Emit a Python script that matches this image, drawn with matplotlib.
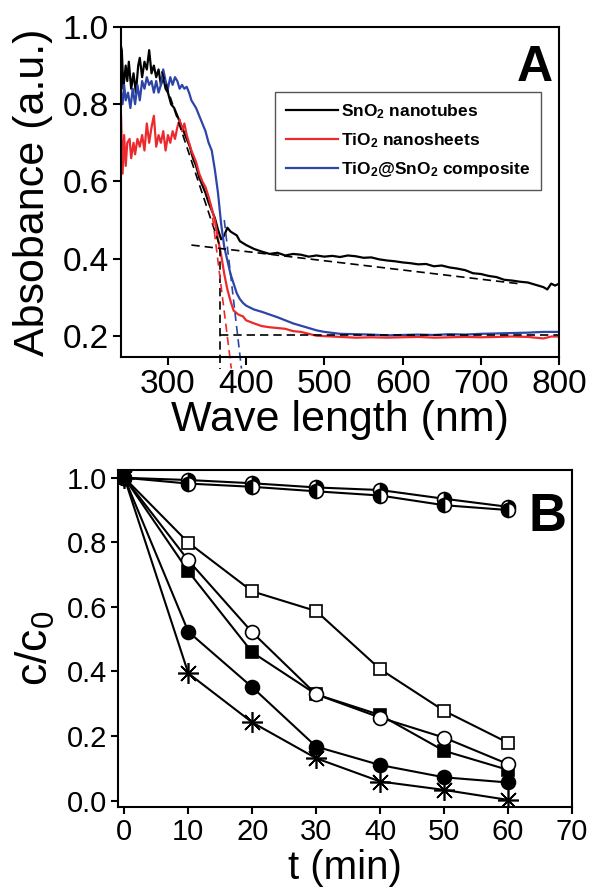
import matplotlib

matplotlib.use("Agg")
import matplotlib.pyplot as plt

plt.rcParams["font.family"] = ["Liberation Sans", "DejaVu Sans"]
plt.rcParams["mathtext.fontset"] = "custom"
plt.rcParams["mathtext.rm"] = "Liberation Sans"
plt.rcParams["mathtext.bf"] = "Liberation Sans:bold"
plt.rcParams["mathtext.default"] = "regular"

# ---- panel A: UV-vis absorbance spectra ----
wl_sno2 = [240, 241, 243, 246, 248, 250, 253, 256, 259, 262, 264, 267, 270, 273, 276, 279,
           282, 285, 288, 291, 294, 297, 300, 304, 308, 312, 316, 320, 324, 328, 332, 336,
           340, 344, 348, 352, 356, 360, 364, 368, 372, 376, 380, 384, 388, 392, 396, 400,
           410, 420, 430, 440, 450, 460, 470, 480, 490, 500, 510, 520, 530, 540, 550, 560,
           570, 580, 590, 600, 610, 620, 630, 640, 650, 660, 670, 680, 690, 700, 710, 720,
           730, 740, 750, 760, 770, 780, 785, 790, 795, 800]
abs_sno2 = [0.95, 0.94, 0.84, 0.90, 0.86, 0.91, 0.84, 0.88, 0.83, 0.90, 0.92, 0.87, 0.91, 0.89,
            0.94, 0.88, 0.90, 0.87, 0.89, 0.85, 0.87, 0.84, 0.83, 0.80, 0.79, 0.77, 0.75, 0.73,
            0.71, 0.69, 0.66, 0.64, 0.61, 0.59, 0.57, 0.545, 0.525, 0.505, 0.475, 0.45, 0.46,
            0.48, 0.47, 0.465, 0.46, 0.445, 0.44, 0.435, 0.425, 0.418, 0.412, 0.415, 0.408,
            0.412, 0.41, 0.405, 0.408, 0.405, 0.407, 0.404, 0.408, 0.406, 0.402, 0.403, 0.398,
            0.395, 0.393, 0.39, 0.388, 0.385, 0.386, 0.38, 0.382, 0.377, 0.374, 0.37, 0.362,
            0.36, 0.355, 0.352, 0.345, 0.343, 0.34, 0.338, 0.332, 0.326, 0.32, 0.335, 0.33, 0.335]

wl_tio2 = [240, 242, 244, 246, 248, 251, 253, 256, 258, 261, 264, 267, 270, 273, 276, 279,
           282, 285, 288, 291, 294, 297, 300, 303, 306, 309, 312, 315, 318, 321, 324, 327,
           330, 333, 336, 340, 344, 348, 352, 356, 360, 364, 368, 372, 376, 380, 384, 390,
           396, 400, 410, 420, 430, 440, 450, 460, 470, 480, 490, 500, 520, 540, 560, 580,
           600, 620, 640, 660, 680, 700, 720, 740, 760, 780, 790, 800]
abs_tio2 = [0.77, 0.62, 0.72, 0.64, 0.70, 0.71, 0.66, 0.70, 0.67, 0.71, 0.69, 0.72, 0.68, 0.75,
            0.70, 0.74, 0.77, 0.69, 0.72, 0.70, 0.73, 0.68, 0.72, 0.70, 0.73, 0.71, 0.74, 0.76,
            0.73, 0.75, 0.72, 0.70, 0.68, 0.665, 0.65, 0.62, 0.60, 0.585, 0.56, 0.53, 0.50,
            0.45, 0.41, 0.36, 0.32, 0.29, 0.265, 0.255, 0.25, 0.24, 0.232, 0.225, 0.222, 0.22,
            0.218, 0.212, 0.21, 0.205, 0.20, 0.199, 0.197, 0.195, 0.196, 0.195, 0.196, 0.197,
            0.195, 0.196, 0.197, 0.196, 0.197, 0.198, 0.197, 0.193, 0.198, 0.198]

wl_comp = [240, 242, 244, 246, 249, 252, 255, 258, 261, 264, 267, 270, 273, 276, 279, 282,
           285, 288, 291, 294, 297, 300, 303, 306, 309, 312, 315, 318, 321, 324, 327, 330,
           333, 336, 340, 344, 348, 352, 356, 360, 364, 368, 372, 376, 380, 384, 388, 392,
           396, 400, 410, 420, 430, 440, 450, 460, 470, 480, 490, 500, 520, 540, 560, 580,
           600, 620, 640, 660, 680, 700, 720, 740, 760, 780, 800]
abs_comp = [0.83, 0.80, 0.85, 0.81, 0.83, 0.79, 0.84, 0.80, 0.85, 0.81, 0.86, 0.84, 0.87, 0.85,
            0.86, 0.83, 0.86, 0.83, 0.85, 0.89, 0.86, 0.84, 0.87, 0.85, 0.87, 0.86, 0.84, 0.85,
            0.84, 0.845, 0.83, 0.81, 0.80, 0.79, 0.77, 0.75, 0.73, 0.70, 0.68, 0.63, 0.57,
            0.49, 0.43, 0.395, 0.36, 0.335, 0.31, 0.295, 0.285, 0.278, 0.268, 0.262, 0.255,
            0.248, 0.24, 0.232, 0.226, 0.22, 0.214, 0.21, 0.205, 0.204, 0.203, 0.201, 0.202,
            0.203, 0.202, 0.204, 0.203, 0.205, 0.206, 0.207, 0.208, 0.21, 0.21]

# band-edge construction lines (endpoints)
sno2_tangent = ([292, 367], [0.885, 0.428])
sno2_drop = ([367, 367], [0.428, 0.115])
sno2_base = ([330, 748], [0.435, 0.335])
tio2_base = ([367, 800], [0.203, 0.203])
tio2_tangent = ([355, 381], [0.54, 0.115])
comp_tangent = ([372, 394], [0.50, 0.115])

# ---- panel B: photodegradation c/c0 vs time ----
t_min = [0, 10, 20, 30, 40, 50, 60]
c_half_upper = [1.0, 0.993, 0.983, 0.970, 0.962, 0.935, 0.910]
c_half_lower = [1.0, 0.982, 0.972, 0.958, 0.945, 0.915, 0.900]
c_open_sq = [1.0, 0.799, 0.648, 0.587, 0.407, 0.278, 0.179]
c_open_circ = [1.0, 0.744, 0.521, 0.329, 0.257, 0.195, 0.113]
c_fill_sq = [1.0, 0.710, 0.459, 0.329, 0.265, 0.154, 0.095]
c_fill_circ = [1.0, 0.523, 0.351, 0.167, 0.110, 0.072, 0.056]
c_star = [1.0, 0.394, 0.242, 0.131, 0.059, 0.033, 0.002]

RED = "#ec2a2e"
BLUE = "#2e45a8"

fig = plt.figure(figsize=(5.9, 8.88), dpi=100)

# panel A
ax = fig.add_axes([0.2051, 0.598, 0.7424, 0.3716])
ax.plot(wl_sno2, abs_sno2, color="black", lw=1.6, label=r"SnO$_\mathbf{2}$ nanotubes")
ax.plot(wl_tio2, abs_tio2, color=RED, lw=1.6, label=r"TiO$_\mathbf{2}$ nanosheets")
ax.plot(wl_comp, abs_comp, color=BLUE, lw=1.6,
        label=r"TiO$_\mathbf{2}$@SnO$_\mathbf{2}$ composite")
dash = (0, (5, 3))
for xs, ys in (sno2_tangent, sno2_base, tio2_base):
    ax.plot(xs, ys, color="black", lw=1.2, ls=dash)
ax.plot(*sno2_drop, color="black", lw=1.2, ls=dash, clip_on=False)
ax.plot(*tio2_tangent, color=RED, lw=1.2, ls=dash, clip_on=False)
ax.plot(*comp_tangent, color=BLUE, lw=1.2, ls=dash, clip_on=False)
ax.set_xlim(240, 800)
ax.set_ylim(0.145, 1.0)
ax.set_xticks([300, 400, 500, 600, 700, 800])
ax.set_yticks([0.2, 0.4, 0.6, 0.8, 1.0])
ax.set_yticklabels([f"{v:.1f}" for v in [0.2, 0.4, 0.6, 0.8, 1.0]])
ax.tick_params(direction="out", length=6, width=1.5, labelsize=24, pad=3)
for s in ax.spines.values():
    s.set_linewidth(1.5)
ax.set_xlabel("Wave length (nm)", fontsize=31, labelpad=0)
ax.set_ylabel("Absobance (a.u.)", fontsize=31)
ax.yaxis.set_label_coords(-0.155, 0.5)
ax.text(0.945, 0.875, "A", transform=ax.transAxes, fontsize=36, fontweight="bold",
        ha="center", va="center")
leg = ax.legend(loc="upper right", bbox_to_anchor=(0.959, 0.804), borderaxespad=0,
                prop={"weight": "bold", "size": 12.5}, handlelength=3.0,
                handletextpad=0.2, labelspacing=0.6, borderpad=0.6,
                fancybox=False, framealpha=1)
leg.get_frame().set_edgecolor("#555555")
leg.get_frame().set_linewidth(1.0)

# panel B
bx = fig.add_axes([0.2, 0.0912, 0.7695, 0.3795])
kw = dict(color="black", lw=1.5, mec="black", mew=1.2)
bx.plot(t_min, c_half_upper, marker="o", ms=10, fillstyle="right", mfc="black",
        markerfacecoloralt="white", **kw)
bx.plot(t_min, c_half_lower, marker="o", ms=10, fillstyle="left", mfc="black",
        markerfacecoloralt="white", **kw)
bx.plot(t_min, c_open_sq, marker="s", ms=9, mfc="white", **kw)
bx.plot(t_min, c_fill_sq, marker="s", ms=8.5, mfc="black", **kw)
bx.plot(t_min, c_open_circ, marker="o", ms=10, mfc="white", **kw)
bx.plot(t_min, c_fill_circ, marker="o", ms=10, mfc="black", **kw)
bx.plot(t_min, c_star, marker=(8, 2, 0), ms=15, mfc="black", **kw)
bx.set_xlim(-1, 70)
bx.set_ylim(-0.02, 1.024)
bx.set_xticks(range(0, 71, 10))
bx.set_yticks([0.0, 0.2, 0.4, 0.6, 0.8, 1.0])
bx.set_yticklabels([f"{v:.1f}" for v in [0.0, 0.2, 0.4, 0.6, 0.8, 1.0]])
bx.tick_params(direction="out", length=5, width=1.5, labelsize=21, pad=3)
for s in bx.spines.values():
    s.set_linewidth(1.5)
bx.set_xlabel("t (min)", fontsize=29, labelpad=2)
bx.set_ylabel("c/c$_0$", fontsize=32)
bx.yaxis.set_label_coords(-0.135, 0.47)
bx.text(0.947, 0.86, "B", transform=bx.transAxes, fontsize=38, fontweight="bold",
        ha="center", va="center")

fig.savefig("out.png", dpi=100)
